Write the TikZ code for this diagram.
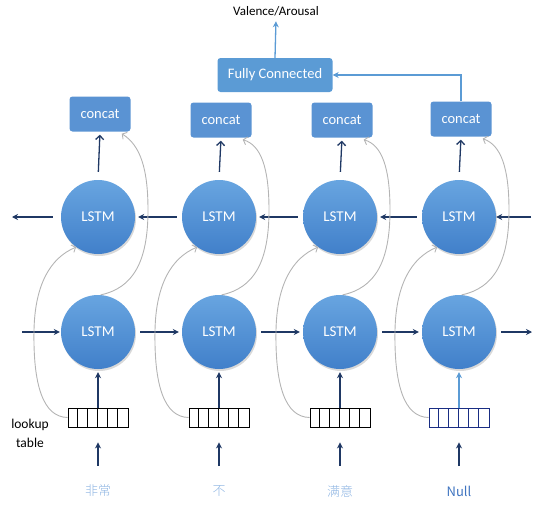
\documentclass[tikz,border=0pt]{standalone}
\usepackage{fontspec}
\setmainfont{Carlito}
\newfontfamily\cjk{Noto Sans CJK SC Light}
\newfontfamily\cjkreg{Noto Sans CJK SC}
\usetikzlibrary{arrows.meta,shadows}
\definecolor{navy}{HTML}{1F3864}
\definecolor{boxblue}{HTML}{5A93D3}
\definecolor{ltop}{HTML}{68A5E0}
\definecolor{lbot}{HTML}{4180CA}
\definecolor{skipgray}{HTML}{B4B4B4}
\definecolor{wordblue}{HTML}{8DB4E2}
\definecolor{nullblue}{HTML}{3F74C0}
\definecolor{fcline}{HTML}{5B9BD5}
\tikzset{
  lstm/.style={circle, minimum size=74pt, inner sep=0pt, top color=ltop, bottom color=lbot,
    draw=none, text=white, font=\fontsize{15}{17}\selectfont,
    drop shadow={opacity=0.3, shadow xshift=1pt, shadow yshift=-2pt}},
  cbox/.style={rectangle, rounded corners=3pt, fill=boxblue, text=white,
    minimum width=61pt, minimum height=35pt, inner sep=0pt, font=\fontsize{14.5}{16}\selectfont},
  fcbox/.style={cbox, fill=fcline, minimum width=115pt, minimum height=34pt},
  lut/.style={draw=#1, line width=0.9pt, minimum width=60pt, minimum height=19pt, inner sep=0pt},
  flow/.style={draw=navy, line width=1.3pt, -{Stealth[length=6pt,width=6pt]}},
  up/.style={draw=navy, line width=1.3pt, -{Straight Barb[length=4pt,width=8pt]}},
  skip/.style={draw=skipgray, line width=0.9pt, -{Straight Barb[length=3.5pt,width=8pt]}},
  word/.style={text=#1, font=\fontsize{13}{15}\selectfont},
}
\begin{document}
\begin{tikzpicture}[x=1pt,y=-1pt]
\useasboundingbox (0,0) rectangle (533,506);

% output head
\node[font=\fontsize{13}{15}\selectfont] (val) at (276,11) {Valence/Arousal};
\node[fcbox] (fc) at (275,75) {Fully Connected};

% lookup label
\node[align=center, font=\fontsize{13.5}{19}\selectfont] (lk) at (30,433) {lookup\\table};

% columns: backward LSTM (u), forward LSTM (l), concat (k), lookup table (t), word (w)
\foreach \i/\c/\ky/\w/\tc/\wc in {1/98/114/{\cjk 非常}/black/wordblue, 2/219/120/{\cjk 不}/black/wordblue,
    3/340/120/{\cjk 满意}/black/wordblue, 4/459/119/{\cjkreg Null}/navy!80!blue/nullblue}{
  \node[cbox] (k\i) at (\c+2,\ky) {concat};
  \node[lstm] (u\i) at (\c,217) {LSTM};
  \node[lstm] (l\i) at (\c,332) {LSTM};
  \node[lut=\tc] (t\i) at (\c,417.5) {};
  \foreach \j in {1,...,5}
    \draw[\tc, line width=0.9pt] ([xshift=\j*10pt]t\i.south west) -- ([xshift=\j*10pt]t\i.north west);
  \node[word=\wc] (w\i) at (\c,491) {\w};
}

% free ends of the recurrent chains
\coordinate (uin) at (533,217);
\coordinate (uout) at (12,217);
\coordinate (lin) at (22,332);
\coordinate (lout) at (532,332);

% backward chain (right to left)
\draw[flow, shorten <=2pt] (uin) -- (u4.east);
\foreach \a/\b in {4/3,3/2,2/1}
  \draw[flow, shorten <=5pt, shorten >=3pt] (u\a.west) -- (u\b.east);
\draw[flow, shorten <=8pt] (u1.west) -- (uout);

% forward chain (left to right)
\draw[flow, shorten >=1pt] (lin) -- (l1.west);
\foreach \a/\b in {1/2,2/3,3/4}
  \draw[flow, shorten <=5pt, shorten >=3pt] (l\a.east) -- (l\b.west);
\draw[flow, shorten <=5pt] (l4.east) -- (lout);

% vertical flow
\foreach \i in {1,2,3,4}{
  \draw[up, shorten <=8pt, shorten >=3pt] (u\i.north) -- (k\i.south);
  \draw[flow, shorten >=15pt, shorten <=16pt] (w\i.north) -- (t\i.south);
}
\foreach \i in {1,2,3}
  \draw[flow, shorten >=3pt] (t\i.north) -- (l\i.south);
\draw[flow, draw=fcline, -{Stealth[length=6pt,width=6pt]}, shorten >=3pt] (t4.north) -- (l4.south);

% skip connections (gray)
\foreach \i/\c in {1/98,2/219,3/340,4/459}{
  \draw[skip] (t\i.west) .. controls ({\c-55},417) and ({\c-65},385) .. ({\c-64},330)
    .. controls ({\c-63},285) and ({\c-48},258) .. (u\i.234);
  \draw[skip] (l\i.86) .. controls ({\c+35},288) and ({\c+50},262) .. ({\c+50},210)
    .. controls ({\c+50},168) and ({\c+42},145) .. ([xshift=-9pt,yshift=-2pt]k\i.south east);
}

% to the dense layer and output
\draw[draw=fcline, line width=1.3pt, -{Stealth[length=6pt,width=6pt]}] (k4.north) |- (fc.east);
\draw[draw=fcline, line width=1.3pt, -{Stealth[length=6pt,width=6pt]}, shorten >=2pt] (fc.north) -- (val.south);
\end{tikzpicture}
\end{document}
